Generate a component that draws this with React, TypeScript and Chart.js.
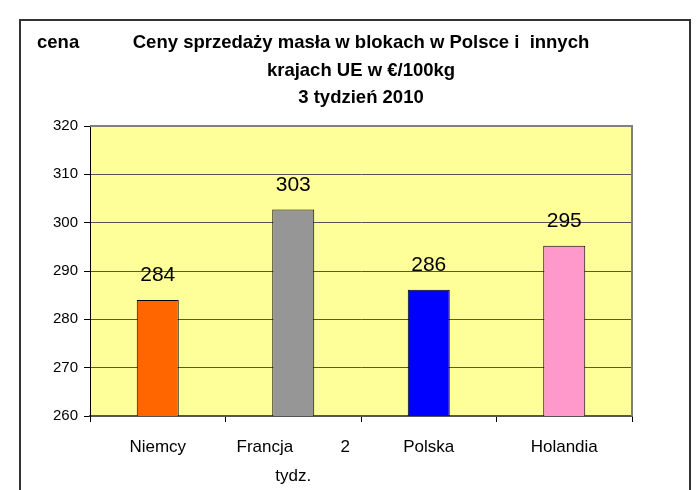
import React, { useEffect, useRef } from 'react';
import { Chart, registerables } from 'chart.js';

Chart.register(...registerables);

const categories: (string | string[])[] = ['Niemcy', ['Francja          2', 'tydz.'], 'Polska', 'Holandia'];
const prices = [284.0, 302.7, 286.1, 295.2];
const barColors = ['#FF6600', '#969696', '#0000FF', '#FF99CC'];
const titleLines = ['Ceny sprzedaży masła w blokach w Polsce i  innych', 'krajach UE w €/100kg', '3 tydzień 2010'];
const yAxisTitle = 'cena';
const yMin = 260;
const yMax = 320;
const yStep = 10;

const FONT = '"Liberation Sans", Arial, sans-serif';

const bgPlugin = {
  id: 'bgPlugin',
  beforeDraw(chart: any) {
    const { ctx, chartArea: a } = chart;
    ctx.save();
    ctx.fillStyle = '#ffffff';
    ctx.fillRect(0, 0, chart.width, chart.height);
    ctx.fillStyle = '#FFFF99';
    ctx.fillRect(a.left, a.top, a.right - a.left, a.bottom - a.top);
    ctx.restore();
  },
  afterDraw(chart: any) {
    const { ctx, chartArea: a } = chart;
    ctx.save();
    // plot frame (top and right) in gray
    ctx.strokeStyle = '#808080';
    ctx.lineWidth = 2;
    ctx.beginPath();
    ctx.moveTo(a.left, a.top);
    ctx.lineTo(a.right, a.top);
    ctx.lineTo(a.right, a.bottom);
    ctx.stroke();
    // outer chart border
    ctx.strokeStyle = '#333333';
    ctx.lineWidth = 2;
    ctx.beginPath();
    ctx.moveTo(20, chart.height);
    ctx.lineTo(20, 20);
    ctx.lineTo(690, 20);
    ctx.lineTo(690, chart.height);
    ctx.stroke();
    // titles
    ctx.fillStyle = '#000';
    ctx.font = `bold 18.5px ${FONT}`;
    ctx.textBaseline = 'middle';
    ctx.textAlign = 'center';
    const cx = (a.left + a.right) / 2;
    titleLines.forEach((t, i) => ctx.fillText(t, cx, 43 + i * 27.5));
    ctx.textAlign = 'left';
    ctx.fillText(yAxisTitle, 37, 43);
    ctx.restore();
  },
  afterDatasetsDraw(chart: any) {
    const { ctx } = chart;
    const meta = chart.getDatasetMeta(0);
    ctx.save();
    ctx.fillStyle = '#000';
    ctx.font = `21px ${FONT}`;
    ctx.textAlign = 'center';
    ctx.textBaseline = 'bottom';
    meta.data.forEach((bar: any, i: number) => {
      ctx.fillText(String(Math.round(prices[i])), bar.x, bar.y - 14);
    });
    ctx.restore();
  },
};

export default function App() {
  const ref = useRef<HTMLCanvasElement | null>(null);
  useEffect(() => {
    document.body.style.margin = '0';
    const chart = new Chart(ref.current as HTMLCanvasElement, {
      type: 'bar',
      data: {
        labels: categories as any,
        datasets: [
          {
            data: prices,
            backgroundColor: barColors,
            borderColor: '#000',
            borderWidth: 1,
            barPercentage: 0.31,
            categoryPercentage: 1,
          },
        ],
      },
      options: {
        responsive: false,
        animation: false,
        layout: { padding: { left: 0, right: 66, top: 126, bottom: 0 } },
        plugins: { legend: { display: false }, tooltip: { enabled: false }, title: { display: false } },
        scales: {
          x: {
            grid: { display: true, drawOnChartArea: false, tickLength: 6, tickColor: '#000', offset: true },
            border: { color: '#555', width: 2 },
            ticks: { color: '#000', font: { family: FONT, size: 17, lineHeight: 1.75 }, padding: 10, maxRotation: 0, autoSkip: false },
            afterFit: (s: any) => { s.height = 74; },
          },
          y: {
            min: yMin,
            max: yMax,
            grid: { color: '#555', lineWidth: 1, tickLength: 6, tickColor: '#000' },
            border: { color: '#000', width: 1 },
            ticks: { stepSize: yStep, color: '#000', font: { family: FONT, size: 15 }, padding: 6 },
            afterFit: (s: any) => { s.width = 90; },
          },
        },
      },
      plugins: [bgPlugin],
    });
    return () => chart.destroy();
  }, []);
  return (
    <div style={{ width: 698, height: 490 }}>
      <canvas ref={ref} width={698} height={490} />
    </div>
  );
}
